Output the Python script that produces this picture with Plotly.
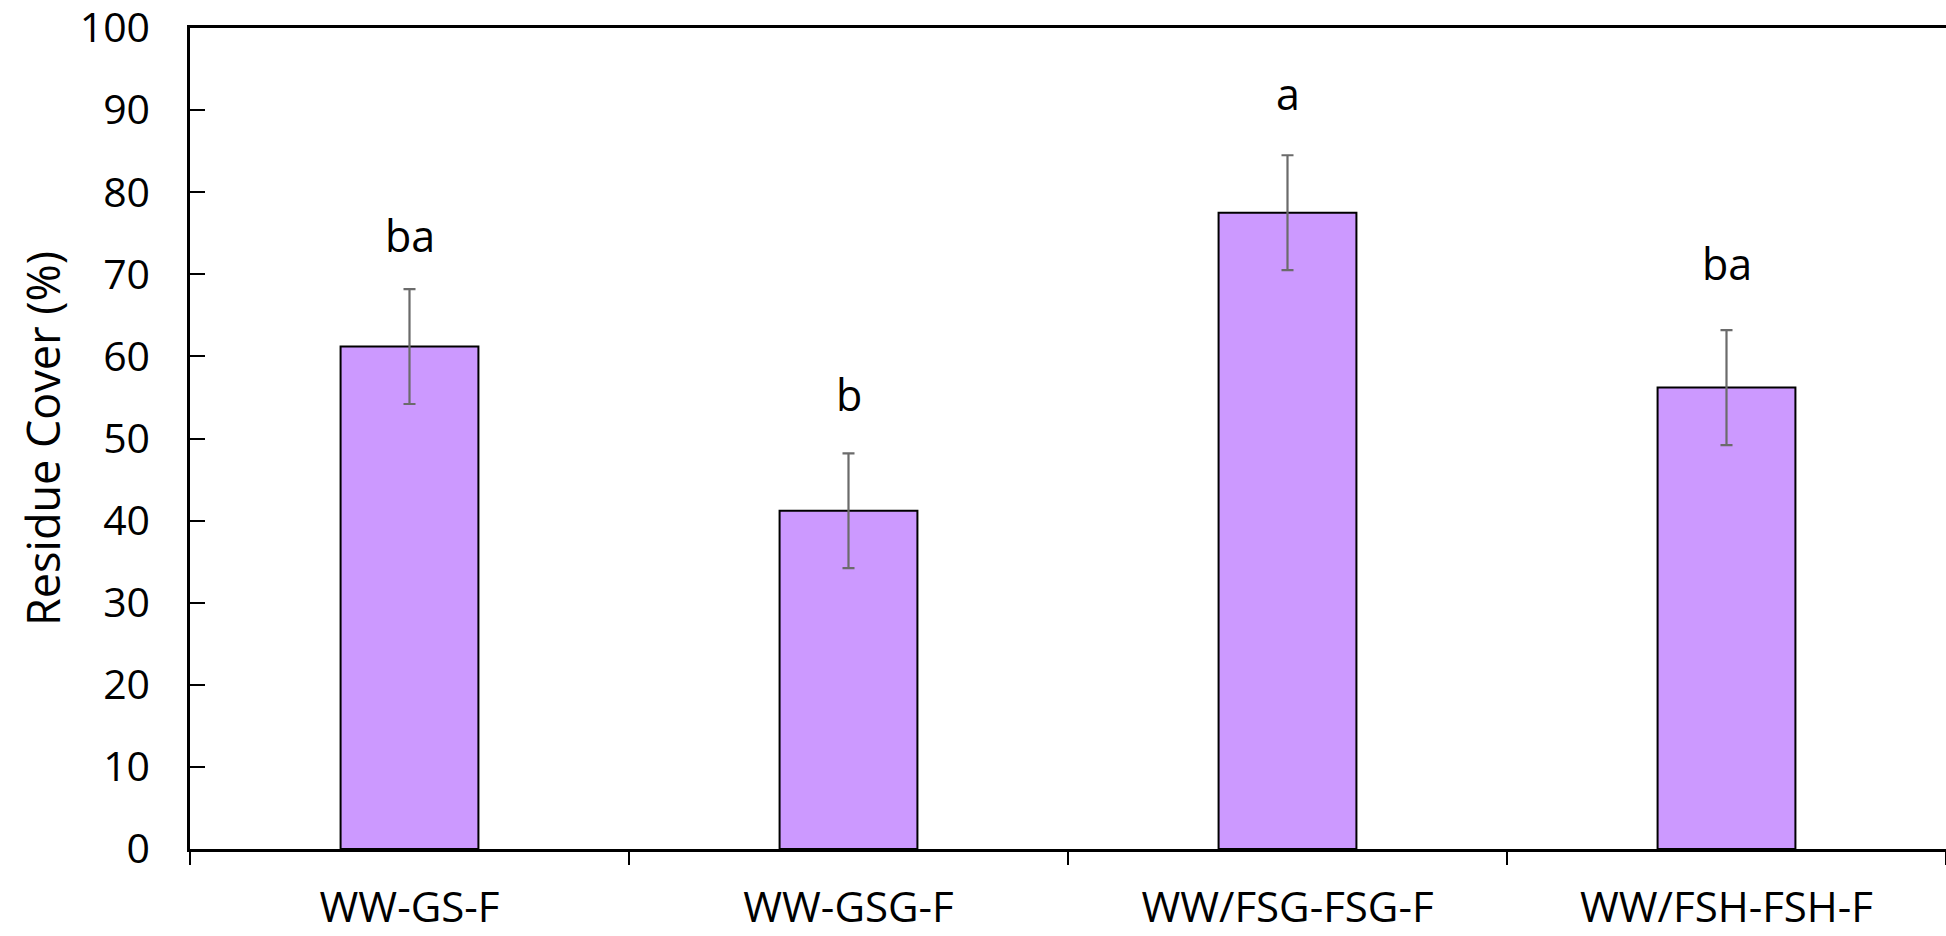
import plotly.graph_objects as go

categories = ["WW-GS-F", "WW-GSG-F", "WW/FSG-FSG-F", "WW/FSH-FSH-F"]
residue_cover = [61.2, 41.2, 77.5, 56.2]
std_error = [7.0, 7.0, 7.0, 7.0]
letters = ["ba", "b", "a", "ba"]
y_ticks = [0, 10, 20, 30, 40, 50, 60, 70, 80, 90, 100]

FONT = "Open Sans"
FS = 43
# vertical placement of the significance letters (in axis units)
letter_pos = [74.7, 55.4, 92.0, 71.3]

fig = go.Figure()
fig.add_trace(go.Bar(
    x=categories, y=residue_cover,
    marker=dict(color="#CC99FF", line=dict(color="black", width=2)),
    width=0.314,
    error_y=dict(type="data", array=std_error, visible=True,
                 color="#6b6b6b", thickness=2.2, width=6),
    showlegend=False,
))

for c, t, ly in zip(categories, letters, letter_pos):
    fig.add_annotation(x=c, y=ly, text=t, showarrow=False,
                       xanchor="center", yanchor="middle",
                       font=dict(family=FONT, size=FS, color="black"))

fig.update_layout(
    width=1946, height=936,
    margin=dict(l=190, r=0, t=28, b=87),
    plot_bgcolor="white", paper_bgcolor="white",
    font=dict(family=FONT, size=FS, color="black"),
    bargap=0.686,
)
fig.update_xaxes(
    automargin=False,
    showline=True, linecolor="black", linewidth=2.5, mirror=True,
    ticks="outside", tickson="boundaries", ticklen=13, tickwidth=1.5, tickcolor="black",
    showgrid=False, ticklabelstandoff=20, ticklabeloverflow="allow",
    tickfont=dict(family=FONT, size=42, color="black"),
)
fig.update_yaxes(
    automargin=False,
    range=[0, 100], tickvals=y_ticks,
    showline=True, linecolor="black", linewidth=2.5, mirror=False,
    ticks="inside", ticklen=15, tickwidth=2, tickcolor="black",
    showgrid=False, zeroline=False, ticklabelstandoff=29, ticklabeloverflow="allow",
    tickfont=dict(family=FONT, size=41, color="black"),
    title=dict(text="Residue Cover (%)", font=dict(family=FONT, size=45, color="black"), standoff=5),
)

fig.write_html("out.html")
